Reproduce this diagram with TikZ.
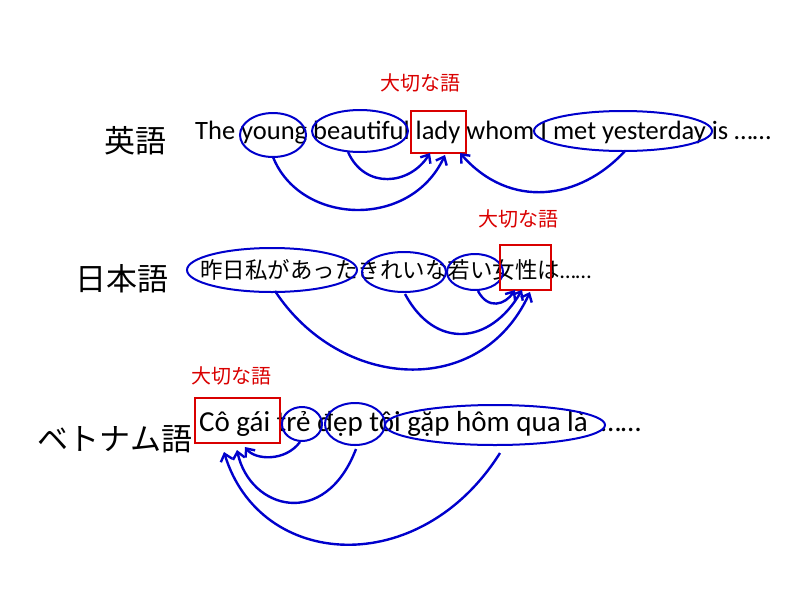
\documentclass[tikz,border=0pt]{standalone}
\usepackage{fontspec}
\setmainfont{Carlito}
\newfontfamily\jpfont{Noto Sans CJK JP}
\usetikzlibrary{arrows.meta,positioning}
\tikzset{
  ring/.style={draw=blue!80!black, line width=2pt},
  keybox/.style={draw=red!85!black, line width=2pt},
  link/.style={draw=blue!80!black, line width=2.4pt, -{Straight Barb[length=7pt,width=12pt]}},
  keylabel/.style={text=red!85!black, font=\jpfont\fontsize{20}{20}\selectfont},
  lang/.style={font=\jpfont\fontsize{31}{31}\selectfont},
}
\begin{document}
\begin{tikzpicture}[x=1pt, y=-1pt]
   \useasboundingbox (0,0) rectangle (800,600);
   % languages
   \node[lang] (en) at (135,141) {英語};
   \node[lang] (ja) at (122,279) {日本語};
   \node[lang] (vi) at (115,439) {ベトナム語};
   % English
   \node[anchor=west, inner sep=0pt, font=\fontsize{26.5}{26.5}\selectfont] (ens) at (195,133) {The young beautiful lady whom I met yesterday is ……};
   \draw[ring] (273,135) ellipse [x radius=33, y radius=22];
   \draw[ring] (360,131) ellipse [x radius=48, y radius=21];
   \draw[ring] (623,131) ellipse [x radius=89, y radius=20];
   \draw[keybox] (411,111) rectangle (466,153);
   \node[keylabel] (enk) at (420,83) {大切な語};
   \coordinate (e1) at (273,157);
   \coordinate (e2) at (348,152);
   \coordinate (e3) at (625,151);
   \coordinate (elady1) at (445,155);
   \coordinate (elady2) at (430,153);
   \coordinate (elady3) at (460,153);
   \draw[link] (e1) .. controls (300,225) and (410,230) .. (elady1);
   \draw[link] (e2) .. controls (365,190) and (410,185) .. (elady2);
   \draw[link] (e3) .. controls (580,200) and (510,210) .. (elady3);
   % Japanese
   \node[anchor=west, inner sep=0pt, font=\jpfont\fontsize{22.5}{22.5}\selectfont] (jas) at (200,270) {昨日私があったきれいな若い女性は{\rmfamily ……}};
   \draw[ring] (272,270) ellipse [x radius=85, y radius=22];
   \draw[ring] (404,272) ellipse [x radius=42, y radius=20];
   \draw[ring] (475,272) ellipse [x radius=28, y radius=18];
   \draw[keybox] (500,245) rectangle (551,290);
   \node[keylabel] (jak) at (518,219) {大切な語};
   \coordinate (j1) at (275,291);
   \coordinate (j2) at (405,294);
   \coordinate (j3) at (478,291);
   \coordinate (jw1) at (530,292);
   \coordinate (jw2) at (522,290);
   \coordinate (jw3) at (515,290);
   \draw[link] (j1) .. controls (340,390) and (480,400) .. (jw1);
   \draw[link] (j2) .. controls (435,350) and (490,345) .. (jw2);
   \draw[link] (j3) .. controls (488,310) and (505,305) .. (jw3);
   % Vietnamese
   \node[anchor=west, inner sep=0pt, font=\fontsize{29}{29}\selectfont] (vis) at (199,424) {Cô gái trẻ đẹp tôi gặp hôm qua là \ ……};
   \draw[ring] (302,424) ellipse [x radius=20, y radius=17];
   \draw[ring] (355,424) ellipse [x radius=30, y radius=21];
   \draw[ring] (495,425) ellipse [x radius=110, y radius=20];
   \draw[keybox] (195,398) rectangle (280,443);
   \node[keylabel] (vik) at (231,376) {大切な語};
   \coordinate (v1) at (300,442);
   \coordinate (v2) at (356,449);
   \coordinate (v3) at (500,453);
   \coordinate (vw1) at (245,447);
   \coordinate (vw2) at (237,450);
   \coordinate (vw3) at (224,452);
   \draw[link] (v1) .. controls (285,462) and (255,460) .. (vw1);
   \draw[link] (v2) .. controls (325,530) and (250,510) .. (vw2);
   \draw[link] (v3) .. controls (420,580) and (260,570) .. (vw3);
\end{tikzpicture}
\end{document}
